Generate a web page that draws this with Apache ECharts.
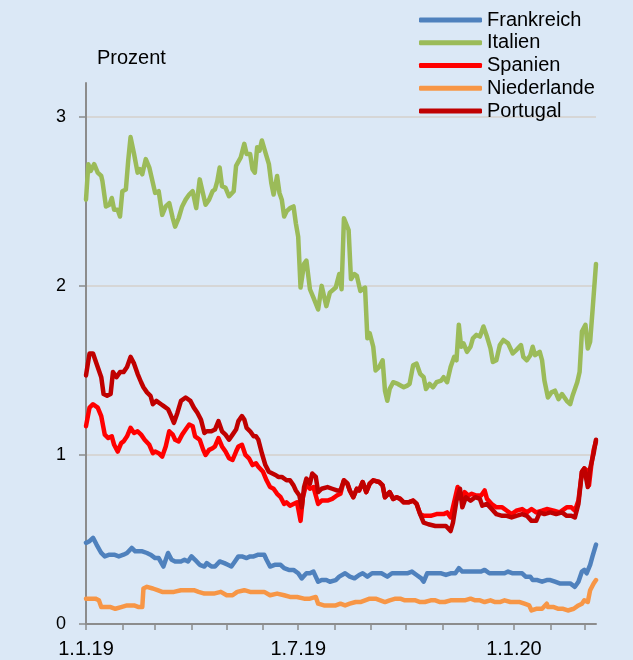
<!DOCTYPE html>
<html>
<head>
<meta charset="utf-8">
<script src="https://cdn.jsdelivr.net/npm/echarts@6/dist/echarts.min.js"></script>
<style>
	html, body { margin: 0; padding: 0; background: #dbe8f6; }
	#chart { width: 633px; height: 660px; }
</style>
</head>
<body>
<div id="chart"></div>
<script>
// x values are days since 1.1.2019 (index into the daily category axis)
var startDate = [2019, 0, 1];
var dayCount = 436;

var seriesNames = ['Frankreich', 'Italien', 'Spanien', 'Niederlande', 'Portugal'];
var seriesColors = ['#4f81bd', '#9bbb59', '#ff0000', '#f79646', '#c00000'];

var frankreich = [
	[0,0.48],[3,0.49],[6,0.51],[9,0.47],[13,0.42],[16,0.40],[20,0.41],[24,0.41],[28,0.40],[32,0.41],
	[35,0.42],[39,0.45],[42,0.43],[45,0.43],[48,0.43],[52,0.42],[55,0.41],[59,0.39],[62,0.39],[66,0.34],
	[70,0.42],[73,0.38],[76,0.37],[81,0.37],[84,0.38],[87,0.37],[90,0.40],[93,0.38],[97,0.35],[101,0.34],
	[103,0.36],[107,0.34],[110,0.34],[114,0.37],[118,0.36],[121,0.35],[124,0.34],[127,0.37],[130,0.40],[133,0.40],
	[137,0.39],[140,0.40],[143,0.40],[147,0.41],[152,0.41],[154,0.38],[157,0.34],[161,0.35],[166,0.35],[169,0.33],
	[173,0.32],[177,0.32],[181,0.30],[184,0.27],[188,0.30],[191,0.30],[194,0.31],[198,0.25],[201,0.26],[205,0.26],
	[208,0.25],[213,0.26],[216,0.28],[221,0.30],[225,0.28],[229,0.27],[233,0.29],[236,0.30],[240,0.28],[244,0.30],
	[248,0.30],[252,0.30],[257,0.28],[261,0.30],[265,0.30],[269,0.30],[274,0.30],[278,0.31],[282,0.29],[286,0.27],
	[288,0.25],[291,0.30],[295,0.30],[299,0.30],[303,0.30],[307,0.29],[311,0.30],[315,0.30],[318,0.33],[321,0.31],
	[325,0.31],[329,0.31],[333,0.31],[337,0.31],[340,0.32],[344,0.30],[348,0.30],[353,0.30],[357,0.30],[360,0.31],
	[364,0.30],[369,0.30],[372,0.30],[375,0.28],[379,0.28],[381,0.26],[385,0.26],[389,0.25],[393,0.26],[396,0.26],
	[400,0.25],[404,0.24],[408,0.24],[413,0.24],[417,0.22],[420,0.25],[423,0.31],[425,0.32],[427,0.30],[430,0.35],
	[432,0.40],[435,0.47]
];

var italien = [
	[0,2.51],[2,2.72],[4,2.68],[7,2.72],[10,2.67],[13,2.65],[14,2.62],[17,2.47],[20,2.48],[22,2.52],
	[24,2.45],[27,2.45],[29,2.41],[31,2.56],[34,2.57],[36,2.74],[38,2.88],[41,2.78],[44,2.67],[46,2.69],
	[48,2.66],[51,2.75],[54,2.70],[57,2.61],[59,2.55],[62,2.56],[65,2.42],[68,2.47],[71,2.49],[74,2.40],
	[76,2.35],[79,2.40],[82,2.47],[85,2.51],[88,2.54],[91,2.56],[92,2.55],[94,2.46],[97,2.63],[99,2.57],
	[102,2.48],[105,2.51],[108,2.56],[110,2.57],[112,2.62],[114,2.70],[116,2.59],[119,2.58],[122,2.53],[126,2.56],
	[128,2.71],[132,2.76],[135,2.84],[137,2.78],[140,2.78],[142,2.69],[144,2.67],[146,2.82],[148,2.80],[150,2.86],
	[153,2.79],[156,2.72],[158,2.61],[160,2.54],[163,2.65],[165,2.55],[167,2.51],[169,2.41],[171,2.44],[174,2.46],
	[177,2.47],[179,2.37],[181,2.29],[183,1.99],[186,2.13],[188,2.15],[191,1.98],[194,1.93],[198,1.86],[201,2.00],
	[205,1.88],[208,1.96],[213,1.99],[216,2.07],[218,1.98],[220,2.40],[224,2.33],[226,2.04],[229,2.07],[231,2.06],
	[234,1.97],[238,1.99],[240,1.69],[242,1.72],[245,1.64],[247,1.50],[250,1.52],[253,1.56],[255,1.38],[257,1.32],
	[259,1.39],[262,1.43],[266,1.42],[271,1.40],[274,1.41],[276,1.42],[279,1.53],[282,1.54],[285,1.48],[288,1.46],
	[290,1.39],[293,1.42],[296,1.40],[299,1.43],[303,1.44],[305,1.46],[308,1.43],[311,1.52],[314,1.58],[316,1.56],
	[318,1.77],[320,1.64],[322,1.66],[325,1.61],[328,1.64],[330,1.69],[333,1.71],[336,1.70],[339,1.76],[342,1.70],
	[345,1.63],[347,1.55],[350,1.56],[353,1.65],[356,1.68],[360,1.66],[364,1.60],[367,1.62],[371,1.65],[373,1.58],
	[376,1.56],[379,1.59],[381,1.64],[383,1.59],[387,1.61],[389,1.56],[391,1.44],[394,1.34],[397,1.37],[400,1.38],
	[403,1.33],[406,1.36],[410,1.32],[413,1.30],[415,1.35],[419,1.43],[421,1.49],[423,1.73],[426,1.77],[428,1.63],
	[430,1.67],[432,1.85],[435,2.13]
];

var spanien = [
	[0,1.17],[3,1.28],[6,1.30],[10,1.28],[13,1.23],[16,1.12],[19,1.10],[22,1.11],[24,1.06],[27,1.02],
	[30,1.07],[32,1.08],[35,1.11],[38,1.16],[41,1.13],[44,1.14],[47,1.12],[50,1.09],[54,1.06],[57,1.01],
	[59,1.02],[62,1.01],[65,0.99],[68,1.05],[71,1.14],[74,1.12],[76,1.09],[79,1.08],[82,1.12],[85,1.15],
	[88,1.18],[91,1.17],[93,1.11],[97,1.09],[100,1.03],[102,1.00],[105,1.03],[108,1.04],[110,1.05],[113,1.10],
	[116,1.05],[119,1.02],[122,0.98],[125,0.97],[128,1.02],[130,1.05],[133,1.06],[136,1.00],[139,0.98],[142,0.94],
	[145,0.95],[147,0.93],[151,0.90],[154,0.85],[157,0.81],[160,0.80],[163,0.77],[166,0.75],[169,0.71],[171,0.72],
	[174,0.70],[177,0.71],[180,0.72],[183,0.61],[185,0.75],[188,0.83],[191,0.80],[194,0.81],[198,0.71],[201,0.73],
	[206,0.73],[210,0.74],[214,0.76],[217,0.77],[220,0.85],[223,0.83],[225,0.79],[228,0.75],[231,0.80],[233,0.79],
	[236,0.84],[239,0.78],[242,0.83],[245,0.85],[250,0.84],[253,0.82],[255,0.75],[259,0.78],[262,0.74],[265,0.75],
	[268,0.74],[271,0.72],[275,0.72],[279,0.73],[282,0.71],[285,0.65],[288,0.64],[294,0.64],[299,0.65],[305,0.65],
	[308,0.66],[311,0.63],[313,0.69],[317,0.81],[320,0.74],[323,0.78],[326,0.76],[329,0.77],[333,0.76],[337,0.76],
	[340,0.79],[342,0.74],[346,0.71],[350,0.69],[355,0.69],[359,0.67],[363,0.65],[367,0.67],[372,0.68],[376,0.66],
	[380,0.68],[384,0.66],[389,0.67],[393,0.68],[399,0.67],[404,0.66],[410,0.69],[414,0.69],[417,0.67],[420,0.73],
	[423,0.90],[425,0.92],[427,0.91],[429,0.82],[431,0.94],[433,1.03],[435,1.08]
];

var niederlande = [
	[0,0.15],[4,0.15],[8,0.15],[11,0.14],[13,0.10],[17,0.10],[21,0.10],[25,0.09],[30,0.10],[35,0.11],
	[41,0.11],[45,0.10],[48,0.10],[49,0.21],[52,0.22],[57,0.21],[61,0.20],[65,0.19],[69,0.19],[75,0.19],
	[81,0.20],[86,0.20],[92,0.20],[96,0.19],[101,0.18],[105,0.18],[109,0.18],[115,0.19],[120,0.17],[125,0.17],
	[129,0.19],[135,0.20],[140,0.19],[145,0.19],[152,0.19],[157,0.17],[163,0.18],[169,0.17],[174,0.16],[180,0.16],
	[186,0.15],[191,0.15],[196,0.16],[198,0.12],[203,0.11],[208,0.11],[213,0.11],[217,0.12],[221,0.11],[225,0.12],
	[230,0.13],[234,0.13],[238,0.14],[242,0.15],[247,0.15],[251,0.14],[255,0.13],[259,0.14],[264,0.15],[268,0.15],
	[272,0.14],[276,0.14],[281,0.14],[285,0.13],[289,0.13],[294,0.14],[298,0.14],[302,0.13],[306,0.13],[311,0.14],
	[315,0.14],[319,0.14],[323,0.14],[328,0.15],[332,0.14],[336,0.14],[340,0.13],[345,0.14],[349,0.13],[353,0.13],
	[357,0.14],[362,0.13],[366,0.13],[370,0.13],[374,0.12],[378,0.11],[380,0.08],[384,0.09],[389,0.09],[393,0.12],
	[394,0.10],[399,0.10],[403,0.09],[407,0.09],[411,0.08],[416,0.09],[420,0.11],[423,0.12],[425,0.14],[428,0.13],
	[430,0.20],[433,0.24],[435,0.26]
];

var portugal = [
	[0,1.47],[3,1.60],[6,1.60],[9,1.54],[13,1.46],[15,1.36],[18,1.35],[21,1.36],[23,1.49],[26,1.46],
	[29,1.49],[32,1.49],[35,1.52],[38,1.58],[41,1.54],[44,1.48],[47,1.43],[49,1.40],[52,1.37],[55,1.35],
	[57,1.30],[60,1.32],[64,1.30],[66,1.29],[70,1.27],[72,1.24],[75,1.19],[78,1.25],[81,1.32],[85,1.34],
	[89,1.32],[92,1.28],[95,1.25],[98,1.21],[101,1.13],[103,1.14],[107,1.14],[110,1.15],[113,1.20],[116,1.14],
	[119,1.12],[122,1.09],[125,1.12],[128,1.15],[130,1.20],[133,1.23],[135,1.21],[137,1.16],[140,1.14],[143,1.11],
	[145,1.11],[147,1.09],[150,1.01],[153,0.94],[156,0.90],[159,0.89],[162,0.88],[164,0.87],[167,0.87],[171,0.85],
	[174,0.85],[177,0.82],[179,0.79],[182,0.76],[184,0.69],[186,0.81],[188,0.86],[191,0.83],[193,0.89],[196,0.87],
	[198,0.78],[201,0.80],[206,0.81],[210,0.80],[214,0.79],[217,0.79],[220,0.85],[223,0.83],[225,0.79],[228,0.75],
	[231,0.80],[233,0.79],[236,0.84],[239,0.78],[242,0.83],[245,0.85],[250,0.84],[253,0.82],[255,0.75],[259,0.78],
	[262,0.74],[265,0.75],[268,0.74],[271,0.72],[275,0.72],[279,0.73],[282,0.71],[285,0.65],[288,0.60],[292,0.59],
	[298,0.58],[303,0.58],[307,0.58],[311,0.55],[313,0.60],[316,0.73],[319,0.80],[321,0.69],[324,0.75],[328,0.73],
	[332,0.75],[336,0.74],[338,0.70],[342,0.71],[346,0.68],[350,0.65],[355,0.64],[359,0.64],[363,0.63],[367,0.64],
	[372,0.65],[376,0.64],[380,0.61],[384,0.61],[387,0.66],[391,0.65],[396,0.66],[401,0.65],[406,0.66],[410,0.64],
	[414,0.64],[417,0.63],[420,0.71],[423,0.90],[425,0.92],[428,0.81],[430,0.92],[433,1.01],[435,1.09]
];

var yTicks = [0, 1, 2, 3];

var chartFont = 'Liberation Sans, Arial, sans-serif';

// daily categories, stored as 'YYYY-M-D'
var days = [];
for (var i = 0; i < dayCount; i++) {
	var d = new Date(startDate[0], startDate[1], startDate[2] + i);
	days.push(d.getFullYear() + '-' + (d.getMonth() + 1) + '-' + d.getDate());
}

function isMonthStart(value) {
	return value.split('-')[2] === '1';
}
function isHalfYearStart(value) {
	var p = value.split('-');
	return p[2] === '1' && (p[1] === '1' || p[1] === '7');
}
function formatDay(value) {
	var p = value.split('-');
	return p[2] + '.' + p[1] + '.' + p[0].slice(2);
}

var chart = echarts.init(document.getElementById('chart'));

var allData = [frankreich, italien, spanien, niederlande, portugal];
var series = [];
for (var s = 0; s < seriesNames.length; s++) {
	series.push({
		name: seriesNames[s],
		type: 'line',
		data: allData[s],
		showSymbol: false,
		symbol: 'none',
		lineStyle: { width: 4.5, color: seriesColors[s], cap: 'round', join: 'round' },
		itemStyle: { color: seriesColors[s] },
		z: 2 + s
	});
}

chart.setOption({
	animation: false,
	backgroundColor: '#dbe8f6',
	textStyle: { fontFamily: chartFont },
	title: {
		text: 'Prozent',
		left: 92,
		top: 43,
		textStyle: { fontSize: 20, fontWeight: 'normal', color: '#000', fontFamily: chartFont }
	},
	legend: {
		orient: 'vertical',
		left: 414,
		top: 5,
		icon: 'roundRect',
		itemWidth: 63,
		itemHeight: 5,
		itemGap: 2.75,
		data: seriesNames,
		textStyle: { fontSize: 20, lineHeight: 20, color: '#000', fontFamily: chartFont }
	},
	grid: {
		left: 86,
		right: 37,
		top: 83,
		bottom: 36,
		containLabel: false
	},
	xAxis: {
		type: 'category',
		data: days,
		boundaryGap: false,
		axisLine: { lineStyle: { color: '#8c8c8c', width: 2 } },
		axisTick: {
			interval: function (index, value) { return isMonthStart(value); },
			length: 6,
			lineStyle: { color: '#8c8c8c', width: 1.5 }
		},
		axisLabel: {
			interval: function (index, value) { return isHalfYearStart(value); },
			formatter: formatDay,
			margin: 15,
			fontSize: 20,
			color: '#000',
			fontFamily: chartFont
		},
		splitLine: { show: false }
	},
	yAxis: {
		type: 'value',
		min: 0,
		max: 3.2,
		interval: 1,
		axisLine: { show: true, lineStyle: { color: '#8c8c8c', width: 2 } },
		axisTick: {
			show: true,
			length: 7,
			customValues: yTicks,
			lineStyle: { color: '#8c8c8c', width: 1.5 }
		},
		axisLabel: {
			showMaxLabel: false,
			margin: 20,
			fontSize: 18,
			color: '#000',
			fontFamily: chartFont
		},
		splitLine: {
			show: true,
			showMinLine: false,
			lineStyle: { color: '#d6d6d6', width: 2 }
		}
	},
	series: series
});
</script>
</body>
</html>
